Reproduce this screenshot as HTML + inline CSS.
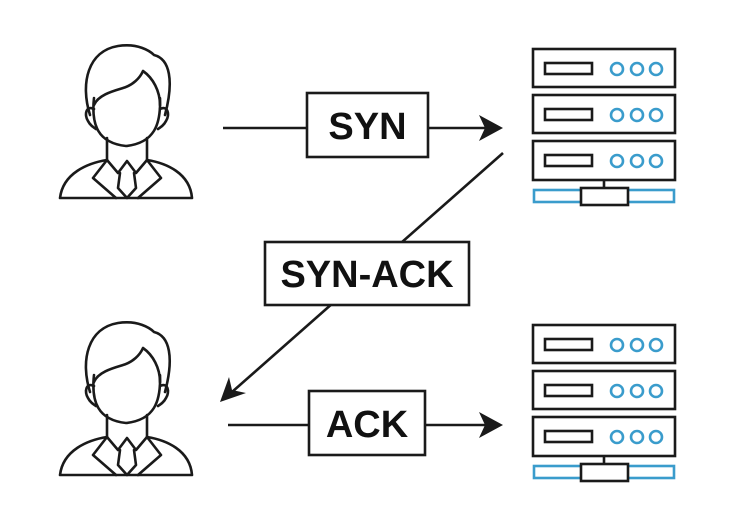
<!DOCTYPE html>
<html><head><meta charset="utf-8"><style>
html,body{margin:0;padding:0;background:#fff;}
svg{display:block;}
text{font-family:"Liberation Sans",Arial,sans-serif;font-weight:bold;fill:#111;}
</style></head><body>
<svg width="744" height="532" viewBox="0 0 744 532" xmlns="http://www.w3.org/2000/svg">
<defs>
<g id="person" fill="none" stroke="#1a1a1a" stroke-width="2.6" stroke-linejoin="round" stroke-linecap="round">
  <path d="M32,72 C22,40 30,8 60,3 C80,0 92,8 96,12 C112,16 116,38 107,72"/>
  <path d="M36,62 C40,52 55,48 65,45 C75,42 82,35 85,28 C95,35 102,48 102,62"/>
  <path d="M36,55 C33,82 40,100 68,103 C96,100 103,82 102,55"/>
  <path d="M36,66 C28,62 26,72 30,78 C32,82 35,84 38,86"/>
  <path d="M102,66 C110,62 112,72 108,78 C106,82 103,84 100,86"/>
  <path d="M49,95 L49,117 M89,95 L89,117"/>
  <path d="M2,155 C5,130 30,120 49,117 M89,117 C108,120 132,130 134,155 M2,155 L134,155"/>
  <path d="M49,117 L35,135 L58,155 M89,117 L103,135 L80,155"/>
  <path d="M49,117 L60,130 L69,118 L78,130 L89,117"/>
  <path d="M62,130 L60,145 L69,155 L78,145 L76,130"/>
</g>
<g id="server">
  <g fill="none" stroke="#1a1a1a" stroke-width="2.6">
    <rect x="533" y="49" width="142" height="38"/>
    <rect x="533" y="95" width="142" height="38"/>
    <rect x="533" y="141" width="142" height="39"/>
    <rect x="545" y="63" width="47" height="11"/>
    <rect x="545" y="109" width="47" height="11"/>
    <rect x="545" y="155" width="47" height="11"/>
  </g>
  <g fill="none" stroke="#3a9ccc" stroke-width="2.6">
    <circle cx="617" cy="69" r="6"/><circle cx="637" cy="69" r="6"/><circle cx="656" cy="69" r="6"/>
    <circle cx="617" cy="115" r="6"/><circle cx="637" cy="115" r="6"/><circle cx="656" cy="115" r="6"/>
    <circle cx="617" cy="161" r="6"/><circle cx="637" cy="161" r="6"/><circle cx="656" cy="161" r="6"/>
    <rect x="534" y="190" width="140" height="12"/>
  </g>
  <line x1="604" y1="180" x2="604" y2="188" stroke="#1a1a1a" stroke-width="2.6"/>
  <rect x="581" y="188" width="47" height="17" fill="#fff" stroke="#1a1a1a" stroke-width="2.6"/>
</g>
</defs>
<use href="#person" x="58" y="43"/>
<use href="#person" x="58" y="320"/>
<use href="#server"/>
<use href="#server" y="276"/>

<g stroke="#1a1a1a" stroke-width="2.6" fill="none">
  <line x1="223" y1="128" x2="307" y2="128"/>
  <line x1="428" y1="128" x2="488" y2="128"/>
  <line x1="503" y1="153" x2="232" y2="392"/>
  <line x1="228" y1="425" x2="309" y2="425"/>
  <line x1="425" y1="425" x2="488" y2="425"/>
  <rect x="307" y="93" width="121" height="64" fill="#fff"/>
  <rect x="265" y="242" width="204" height="63" fill="#fff"/>
  <rect x="309" y="391" width="116" height="64" fill="#fff"/>
</g>
<path d="M503,128 L479,115 L485,128 L479,141 Z" fill="#1a1a1a"/>
<path d="M503,425 L479,412 L485,425 L479,438 Z" fill="#1a1a1a"/>
<path d="M220,402 L229,377 L232,390 L246,393 Z" fill="#1a1a1a"/>

<text x="367.5" y="139" font-size="38" text-anchor="middle">SYN</text>
<text x="367" y="287" font-size="38" text-anchor="middle">SYN-ACK</text>
<text x="367" y="437" font-size="38" text-anchor="middle">ACK</text>
</svg>
</body></html>
